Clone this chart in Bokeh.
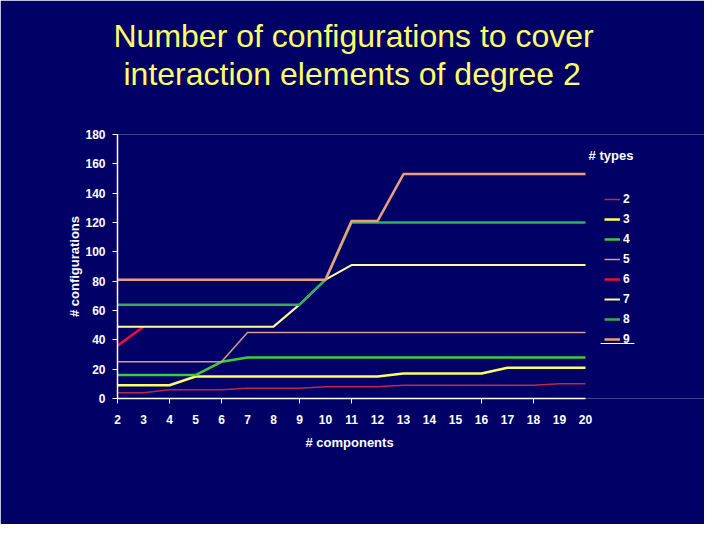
from bokeh.plotting import figure
from bokeh.models import Legend, LegendItem, Label, FixedTicker, Title, BoxAnnotation
from bokeh.embed import file_html
from bokeh.resources import INLINE

components = list(range(2, 21))

# configurations per number of types
types_2 = [4, 4, 6, 6, 6, 7, 7, 7, 8, 8, 8, 9, 9, 9, 9, 9, 9, 10, 10]
types_3 = [9, 9, 9, 15, 15, 15, 15, 15, 15, 15, 15, 17, 17, 17, 17, 21, 21, 21, 21]
types_4 = [16, 16, 16, 16, 25, 28, 28, 28, 28, 28, 28, 28, 28, 28, 28, 28, 28, 28, 28]
types_5 = [25, 25, 25, 25, 25, 45, 45, 45, 45, 45, 45, 45, 45, 45, 45, 45, 45, 45, 45]
types_6 = [36, 49]
types_7 = [49, 49, 49, 49, 49, 49, 49, 64, 81, 91, 91, 91, 91, 91, 91, 91, 91, 91, 91]
types_8 = [64, 64, 64, 64, 64, 64, 64, 64, 81, 120, 120, 120, 120, 120, 120, 120, 120, 120, 120]
types_9 = [81, 81, 81, 81, 81, 81, 81, 81, 81, 121, 121, 153, 153, 153, 153, 153, 153, 153, 153]

series = [
    ("2", types_2, "#c02848", 1.5),
    ("3", types_3, "#ffff66", 2.5),
    ("4", types_4, "#3ccc3c", 2.5),
    ("5", types_5, "#d49c90", 1.5),
    ("6", types_6, "#ee1133", 2.5),
    ("7", types_7, "#ffff99", 2),
    ("8", types_8, "#33b055", 2.5),
    ("9", types_9, "#eaa07c", 2.5),
]

x_ticks = components
x_tick_marks = [2, 4, 6, 9, 11, 16, 18]
y_ticks = list(range(0, 181, 20))

BG = "#000066"
FONT = "Liberation Sans"

# frame runs to the right edge so the legend can sit inside it;
# 26 px per component, axis itself stops at 20
x_end = 20 + 119 / 26
p = figure(width=704, height=524, x_range=(2, x_end), y_range=(0, 180),
           output_backend="svg", toolbar_location=None, title=None,
           min_border_left=117, min_border_right=0,
           min_border_top=134, min_border_bottom=126)
p.background_fill_color = BG
p.border_fill_color = BG
p.outline_line_color = None
p.grid.visible = False

items = []
for name, ys, color, lw in series:
    r = p.line(components[:len(ys)], ys, line_color=color, line_width=lw)
    items.append(LegendItem(label=name, renderers=[r]))

# axes
p.xaxis.bounds = (2, 20)
p.xaxis.ticker = FixedTicker(ticks=x_ticks, minor_ticks=x_tick_marks)
p.xaxis.major_tick_line_color = None
p.xaxis.minor_tick_line_color = "white"
p.xaxis.minor_tick_out = 5
p.xaxis.minor_tick_in = 0
p.xaxis.major_label_standoff = 10

p.yaxis.ticker = FixedTicker(ticks=y_ticks)
p.yaxis.minor_tick_line_color = None
p.yaxis.major_tick_line_color = "white"
p.yaxis.major_tick_out = 5
p.yaxis.major_tick_in = 0
p.yaxis.major_label_standoff = 7
p.yaxis.axis_label = "# configurations"
p.yaxis.axis_label_standoff = 0

for ax in (p.xaxis, p.yaxis):
    ax.axis_line_color = "white"
    ax.axis_line_width = 1.5
    ax.major_label_text_color = "white"
    ax.major_label_text_font = FONT
    ax.major_label_text_font_style = "bold"
    ax.major_label_text_font_size = "12px"
    ax.axis_label_text_color = "white"
    ax.axis_label_text_font = FONT
    ax.axis_label_text_font_style = "bold"
    ax.axis_label_text_font_size = "13px"

# x label centred under the 2..20 span (the frame is wider)
p.add_layout(Title(text="# components", align="left", offset=188,
                   text_color="white", text_font=FONT, text_font_size="13px",
                   text_font_style="bold", standoff=13), "below")

# two-line title, nearest line first
for txt, off, so in [("interaction elements of degree 2", 6, 85),
                     ("Number of configurations to cover", -4, -84)]:
    p.add_layout(Title(text=txt, align="left", offset=off, text_color="#ffff66",
                       text_font=FONT, text_font_size="32px",
                       text_font_style="normal", standoff=so), "above")

legend = Legend(items=items, location=(487, 49), padding=0, margin=0, spacing=0,
                glyph_width=16, glyph_height=20, label_height=20,
                label_standoff=3, background_fill_alpha=0, border_line_color=None,
                label_text_color="white", label_text_font=FONT,
                label_text_font_style="bold", label_text_font_size="12px")
p.add_layout(legend)

p.add_layout(Label(x=20.12, y=165.7, text="# types", text_align="left",
                   text_baseline="alphabetic", text_color="white",
                   text_font=FONT, text_font_style="bold", text_font_size="13px"))

# white rule under the legend
p.add_layout(BoxAnnotation(left=20.58, right=21.88, bottom=37.1, top=37.9,
                           fill_color="white", fill_alpha=1, line_color=None))

open("out.html", "w").write(file_html(p, INLINE))
